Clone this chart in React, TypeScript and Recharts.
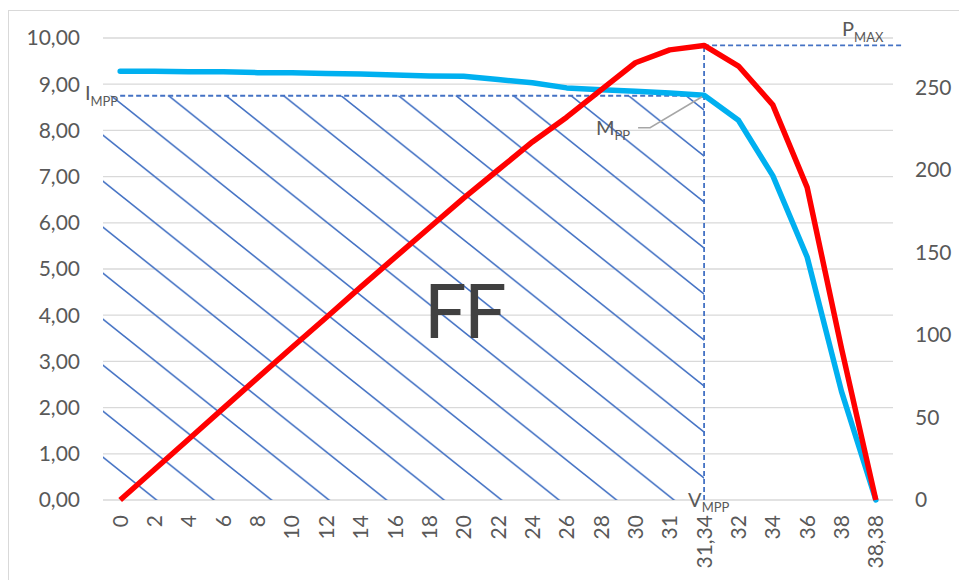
import {
  ComposedChart,
  Line,
  XAxis,
  YAxis,
  CartesianGrid,
  ReferenceArea,
  ReferenceLine,
  ReferenceDot,
} from "recharts";

// voltage categories (V)
const voltage = [
  "0", "2", "4", "6", "8", "10", "12", "14", "16", "18", "20", "22",
  "24", "26", "28", "30", "31", "31,34", "32", "34", "36", "38", "38,38",
];
// current (A), left axis
const current = [
  9.28, 9.28, 9.27, 9.27, 9.25, 9.25, 9.23, 9.22, 9.2, 9.18, 9.17, 9.1,
  9.03, 8.92, 8.88, 8.85, 8.81, 8.76, 8.22, 7.02, 5.26, 2.35, 0,
];
// power (W), right axis
const power = [
  0, 18.5, 37, 55.5, 74, 92.4, 110.6, 129, 147, 165, 183, 200,
  217, 232, 248.6, 265, 272.8, 275.5, 263, 239.5, 189.5, 92, 0,
];
const currentTicks = [0, 1, 2, 3, 4, 5, 6, 7, 8, 9, 10];
const powerTicks = [0, 50, 100, 150, 200, 250];

const V_MPP = "31,34";
const V_OC = "38,38";
const I_MPP = 8.75;
const P_MAX = 275.5;
const FF_V = "20";
const FF_I = 3.5;

const rows = voltage.map((v, k) => ({ v, current: current[k], power: power[k] }));

const FONT = "Lato, 'Open Sans', sans-serif";
const GREY = "#595959";
const GUIDE = "#4472C4";
const hatchBands = voltage.indexOf(V_MPP) + 1;

function SubText({ x, y, main, sub, anchor = "start", size = 20, subSize = 13, drop = 6 }: any) {
  return (
    <text x={x} y={y} textAnchor={anchor} fill={GREY} fontFamily={FONT} fontSize={size}>
      {main}
      <tspan fontSize={subSize} dy={drop}>
        {sub}
      </tspan>
    </text>
  );
}

function VoltTick({ x, y, payload }: any) {
  return (
    <text
      x={x}
      y={y}
      transform={`rotate(-90, ${x}, ${y})`}
      textAnchor="end"
      dy="0.36em"
      fill={GREY}
      fontSize={21}
      fontFamily={FONT}
    >
      {payload.value}
    </text>
  );
}

export default function App() {
  return (
    <div
      style={{
        position: "absolute",
        left: 8,
        top: 10,
        width: 951,
        height: 570,
        borderTop: "1px solid #d9d9d9",
        borderLeft: "1px solid #d9d9d9",
        boxSizing: "border-box",
        background: "#fff",
        fontFamily: FONT,
      }}
    >
      <ComposedChart
        width={950}
        height={569}
        data={rows}
        margin={{ top: 27, right: 0, bottom: 0, left: 0 }}
      >
        <defs>
          <pattern id="ffHatch" patternUnits="userSpaceOnUse" width={57.5} height={46} y={3}>
            <path
              d="M0,0 L57.5,46 M55,-2 L60,2 M-2.5,44 L2.5,48"
              stroke={GUIDE}
              strokeWidth={1.6}
              fill="none"
            />
          </pattern>
        </defs>
        <CartesianGrid yAxisId="left" vertical={false} stroke="#d9d9d9" strokeWidth={1.3} />
        <XAxis
          dataKey="v"
          scale="band"
          interval={0}
          axisLine={false}
          tickLine={false}
          tickSize={0}
          tickMargin={15}
          height={80}
          tick={<VoltTick />}
        />
        <YAxis
          yAxisId="left"
          domain={[0, 10]}
          ticks={currentTicks}
          tickFormatter={(t: number) => t.toFixed(2).replace(".", ",")}
          axisLine={false}
          tickLine={false}
          tickSize={0}
          tickMargin={23}
          width={94}
          tick={{ fill: GREY, fontSize: 21, fontFamily: FONT }}
        />
        <YAxis
          yAxisId="right"
          orientation="right"
          domain={[0, 280]}
          ticks={powerTicks}
          axisLine={false}
          tickLine={false}
          tickSize={0}
          tickMargin={22}
          width={66}
          tick={{ fill: GREY, fontSize: 21, fontFamily: FONT }}
        />

        {/* FF hatched rectangle, 0..V_MPP x 0..I_MPP */}
        <ReferenceArea
          yAxisId="left"
          x1={voltage[0]}
          x2={V_MPP}
          y1={0}
          y2={I_MPP}
          shape={(p: any) => (
            <rect
              x={p.x}
              y={p.y}
              width={p.width - p.width / (2 * hatchBands)}
              height={p.height}
              fill="url(#ffHatch)"
              stroke="none"
            />
          )}
        />
        <ReferenceLine
          yAxisId="left"
          segment={[
            { x: voltage[0], y: I_MPP },
            { x: V_MPP, y: I_MPP },
          ]}
          stroke={GUIDE}
          strokeWidth={1.8}
          strokeDasharray="5 3"
        />
        <ReferenceLine
          yAxisId="right"
          segment={[
            { x: V_MPP, y: 0 },
            { x: V_MPP, y: P_MAX },
          ]}
          stroke={GUIDE}
          strokeWidth={1.8}
          strokeDasharray="5 3"
        />
        <ReferenceLine
          yAxisId="right"
          segment={[
            { x: V_MPP, y: P_MAX },
            { x: V_OC, y: P_MAX },
          ]}
          shape={(p: any) => (
            <line
              x1={p.x1}
              y1={p.y1}
              x2={p.x2 + 26}
              y2={p.y2}
              stroke={GUIDE}
              strokeWidth={1.8}
              strokeDasharray="5 3"
            />
          )}
        />

        {/* annotations */}
        <ReferenceDot
          yAxisId="left"
          x={voltage[0]}
          y={I_MPP}
          shape={(p: any) => (
            <SubText x={p.cx - 2} y={p.cy + 4} main="I" sub="MPP" anchor="end" drop={6.5} />
          )}
        />
        <ReferenceDot
          yAxisId="left"
          x={V_MPP}
          y={I_MPP}
          shape={(p: any) => (
            <g>
              <polyline
                points={`${p.cx - 2},${p.cy + 1} ${p.cx - 54},${p.cy + 32} ${p.cx - 66},${p.cy + 32}`}
                fill="none"
                stroke="#a6a6a6"
                strokeWidth={1.5}
              />
              <SubText x={p.cx - 74} y={p.cy + 39} main="M" sub="PP" anchor="end" drop={5} />
            </g>
          )}
        />
        <ReferenceDot
          yAxisId="left"
          x={V_MPP}
          y={0}
          shape={(p: any) => <SubText x={p.cx - 16} y={p.cy + 7} main="V" sub="MPP" drop={5} />}
        />
        <ReferenceDot
          yAxisId="right"
          x={V_MPP}
          y={P_MAX}
          shape={(p: any) => <SubText x={p.cx + 138} y={p.cy - 9} main="P" sub="MAX" drop={6} />}
        />
        <ReferenceDot
          yAxisId="left"
          x={FF_V}
          y={FF_I}
          shape={(p: any) => (
            <text
              x={p.cx}
              y={p.cy}
              textAnchor="middle"
              fill="#404040"
              fontFamily={FONT}
              fontSize={76}
              letterSpacing={-3}
            >
              FF
            </text>
          )}
        />

        <Line
          yAxisId="left"
          type="linear"
          dataKey="current"
          stroke="#00B0F0"
          strokeWidth={5.5}
          strokeLinecap="round"
          strokeLinejoin="round"
          dot={false}
          activeDot={false}
          isAnimationActive={false}
        />
        <Line
          yAxisId="right"
          type="linear"
          dataKey="power"
          stroke="#FF0000"
          strokeWidth={5.5}
          strokeLinejoin="round"
          dot={false}
          activeDot={false}
          isAnimationActive={false}
        />
      </ComposedChart>
    </div>
  );
}
